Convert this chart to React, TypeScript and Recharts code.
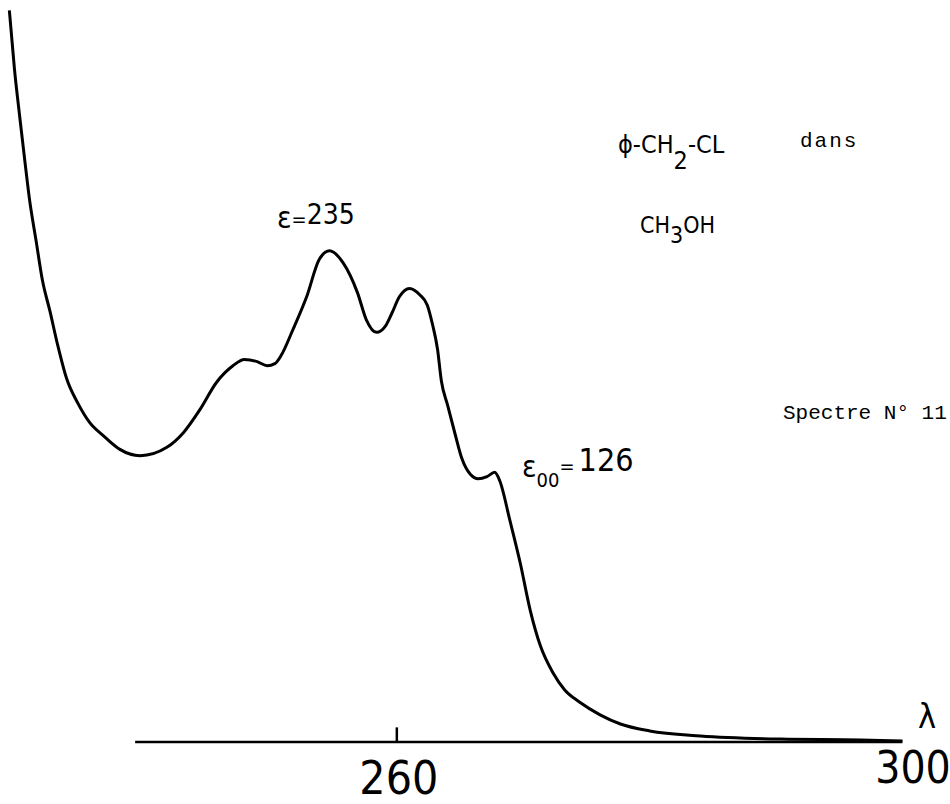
import React from "react";
import { LineChart, Line, XAxis, YAxis, ReferenceLine } from "recharts";

// wavelength (nm)
const wavelength = [
  229.5, 229.9, 230.3, 230.7, 231.1, 231.6, 232.1, 232.7, 233.3, 234.0, 234.9,
  235.8, 237.0, 238.2, 239.8, 241.9, 243.2, 244.5, 245.8, 247.1, 248.0, 249.0,
  249.8, 250.4, 250.9, 251.8, 252.9, 253.9, 254.7, 255.8, 256.9, 257.6, 258.4,
  259.1, 259.6, 260.2, 261.0, 261.8, 262.4, 262.8, 263.2, 263.5, 264.0, 264.6,
  265.1, 265.8, 266.4, 267.1, 267.7, 268.1, 268.9, 269.7, 270.5, 271.3, 272.3,
  273.2, 274.4, 276.0, 277.6, 279.9, 283.9, 290.2, 296.5, 299.8,
];
// molar absorptivity epsilon
const epsilon = [
  350, 322, 300, 279, 259, 240, 221, 206, 190, 174, 162,
  153, 146, 140, 137, 141, 148, 159, 172, 180, 183, 182,
  180, 181, 185, 197, 213, 231, 235, 229, 215, 202, 196,
  199, 205, 213, 217, 214, 209, 200, 188, 173, 161, 147,
  136, 128, 126, 127, 129, 125, 106, 86, 63, 46, 33,
  25, 19, 13, 8.6, 5.3, 2.9, 1.4, 1.0, 0.5,
];
const xTicks = [260, 300];
const xTickLabels = ["260", "300"];

const data = wavelength.map((w, i) => ({ w, e: epsilon[i] }));

const hand = "'Liberation Sans Narrow', 'DejaVu Sans Condensed', 'Liberation Sans', sans-serif";
const mono = "'Liberation Mono', 'DejaVu Sans Mono', monospace";

const AxisTick = (props: any) => {
  const { x, payload } = props;
  const i = xTicks.indexOf(payload.value);
  const label = xTickLabels[i] ?? String(payload.value);
  const is300 = payload.value === 300;
  return (
    <text
      x={x + (is300 ? 8 : 2)}
      y={is300 ? 783 : 794}
      textAnchor="middle"
      fontFamily={hand}
      fontSize={is300 ? 44 : 46}
      fill="#000"
    >
      {label}
    </text>
  );
};

export default function App() {
  return (
    <div style={{ position: "absolute", left: 0, top: 0, width: 950, height: 804, background: "#fff" }}>
      <LineChart
        width={950}
        height={804}
        data={data}
        margin={{ top: 0, right: 45, bottom: 0, left: 3 }}
      >
        <XAxis
          dataKey="w"
          type="number"
          domain={[229, 300]}
          allowDataOverflow
          ticks={xTicks}
          height={62}
          axisLine={false}
          tickLine={false}
          tick={<AxisTick />}
          interval={0}
        />
        <YAxis hide type="number" domain={[0, 355]} allowDataOverflow />
        <ReferenceLine
          segment={[{ x: 239.4, y: 0 }, { x: 299.8, y: 0 }]}
          stroke="#000"
          strokeWidth={2.5}
          ifOverflow="visible"
        />
        <ReferenceLine
          segment={[{ x: 260, y: 0 }, { x: 260, y: 7 }]}
          stroke="#000"
          strokeWidth={2.5}
          ifOverflow="visible"
        />
        <Line
          type="monotone"
          dataKey="e"
          stroke="#000"
          strokeWidth={3}
          dot={false}
          activeDot={false}
          isAnimationActive={false}
        />
        <text x={277} y={228} fontFamily={hand} fontSize={30} fill="#000">
          ε<tspan fontSize={20} dy={-2}>=</tspan>
          <tspan fontSize={28} dy={-2}>235</tspan>
        </text>
        <text x={522} y={477} fontFamily={hand} fontSize={30} fill="#000">
          ε<tspan fontSize={20} dy={10}>00</tspan>
          <tspan fontSize={20} dy={-14}>=</tspan>
          <tspan fontSize={32} dy={-2} dx={4}>126</tspan>
        </text>
        <text x={618} y={153} fontFamily={hand} fontSize={25} fill="#000">
          ϕ-CH<tspan dy={16}>2</tspan>
          <tspan dy={-16}>-CL</tspan>
        </text>
        <text x={800} y={147} fontFamily={mono} fontSize={21} fill="#000" letterSpacing={2}>
          dans
        </text>
        <text x={640} y={233} fontFamily={hand} fontSize={23} fill="#000">
          CH<tspan dy={10}>3</tspan>
          <tspan dy={-10}>OH</tspan>
        </text>
        <text x={783} y={419} fontFamily={mono} fontSize={21} fill="#000">
          Spectre N° 11
        </text>
        <text x={918} y={728} fontFamily={hand} fontSize={34} fill="#000">
          λ
        </text>
      </LineChart>
    </div>
  );
}
